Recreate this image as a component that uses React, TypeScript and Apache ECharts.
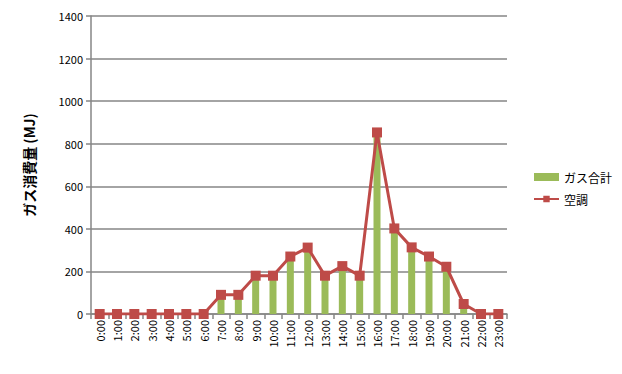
import React, { useEffect, useRef } from "react";
import * as echarts from "echarts";

const categories = ["0:00","1:00","2:00","3:00","4:00","5:00","6:00","7:00","8:00","9:00","10:00","11:00","12:00","13:00","14:00","15:00","16:00","17:00","18:00","19:00","20:00","21:00","22:00","23:00"];
const gasTotal = [0,0,0,0,0,0,0,88,88,178,178,268,310,178,222,178,850,400,312,268,222,45,0,0];
const aircon = [0,0,0,0,0,0,0,90,90,180,180,270,312,180,225,180,853,402,313,270,222,47,0,0];
const yTicks = { min: 0, max: 1400, interval: 200 };

const FONT = "'Noto Sans CJK JP', 'Noto Sans', sans-serif";

export default function App() {
  const ref = useRef<HTMLDivElement>(null);
  useEffect(() => {
    const chart = echarts.init(ref.current!, null, { renderer: "svg" });
    chart.setOption({
      animation: false,
      textStyle: { fontFamily: FONT },
      grid: { left: 91, right: 115, top: 16, bottom: 60 },
      legend: {
        orient: "vertical",
        left: 528,
        top: 166,
        itemGap: 10,
        itemWidth: 25,
        itemHeight: 8,
        textStyle: { fontFamily: FONT, fontSize: 12, color: "#000" },
        data: [
          { name: "ガス合計", icon: "rect" },
          { name: "空調" },
        ],
      },
      xAxis: {
        type: "category",
        data: categories,
        boundaryGap: true,
        axisLine: { lineStyle: { color: "#868686", width: 1.5 } },
        axisTick: { show: true, length: 5, alignWithLabel: false, lineStyle: { color: "#868686", width: 1.5 } },
        axisLabel: { rotate: 90, interval: 0, fontSize: 11, color: "#000", fontFamily: FONT, margin: 6 },
        splitLine: { show: false },
      },
      yAxis: {
        type: "value",
        min: yTicks.min,
        max: yTicks.max,
        interval: yTicks.interval,
        name: "ガス消費量 (MJ)",
        nameLocation: "middle",
        nameGap: 55,
        nameRotate: 90,
        nameTextStyle: { fontFamily: FONT, fontSize: 14, fontWeight: "bold", color: "#000" },
        axisLine: { show: true, lineStyle: { color: "#868686", width: 1.5 } },
        axisTick: { show: true, length: 5, lineStyle: { color: "#868686", width: 1.5 } },
        axisLabel: { fontSize: 11, color: "#000", fontFamily: FONT, margin: 8, formatter: (v: number) => String(v) },
        splitLine: { show: true, lineStyle: { color: "#868686", width: 1.5 } },
      },
      series: [
        {
          name: "ガス合計",
          type: "bar",
          data: gasTotal,
          barWidth: 7,
          itemStyle: { color: "#9BBB59" },
        },
        {
          name: "空調",
          type: "line",
          data: aircon,
          symbol: "rect",
          symbolSize: 10,
          lineStyle: { color: "#BE4B48", width: 3 },
          itemStyle: { color: "#BE4B48" },
        },
      ],
    });
    return () => chart.dispose();
  }, []);
  return <div ref={ref} style={{ width: 622, height: 374, position: "absolute", left: 0, top: 0 }} />;
}
